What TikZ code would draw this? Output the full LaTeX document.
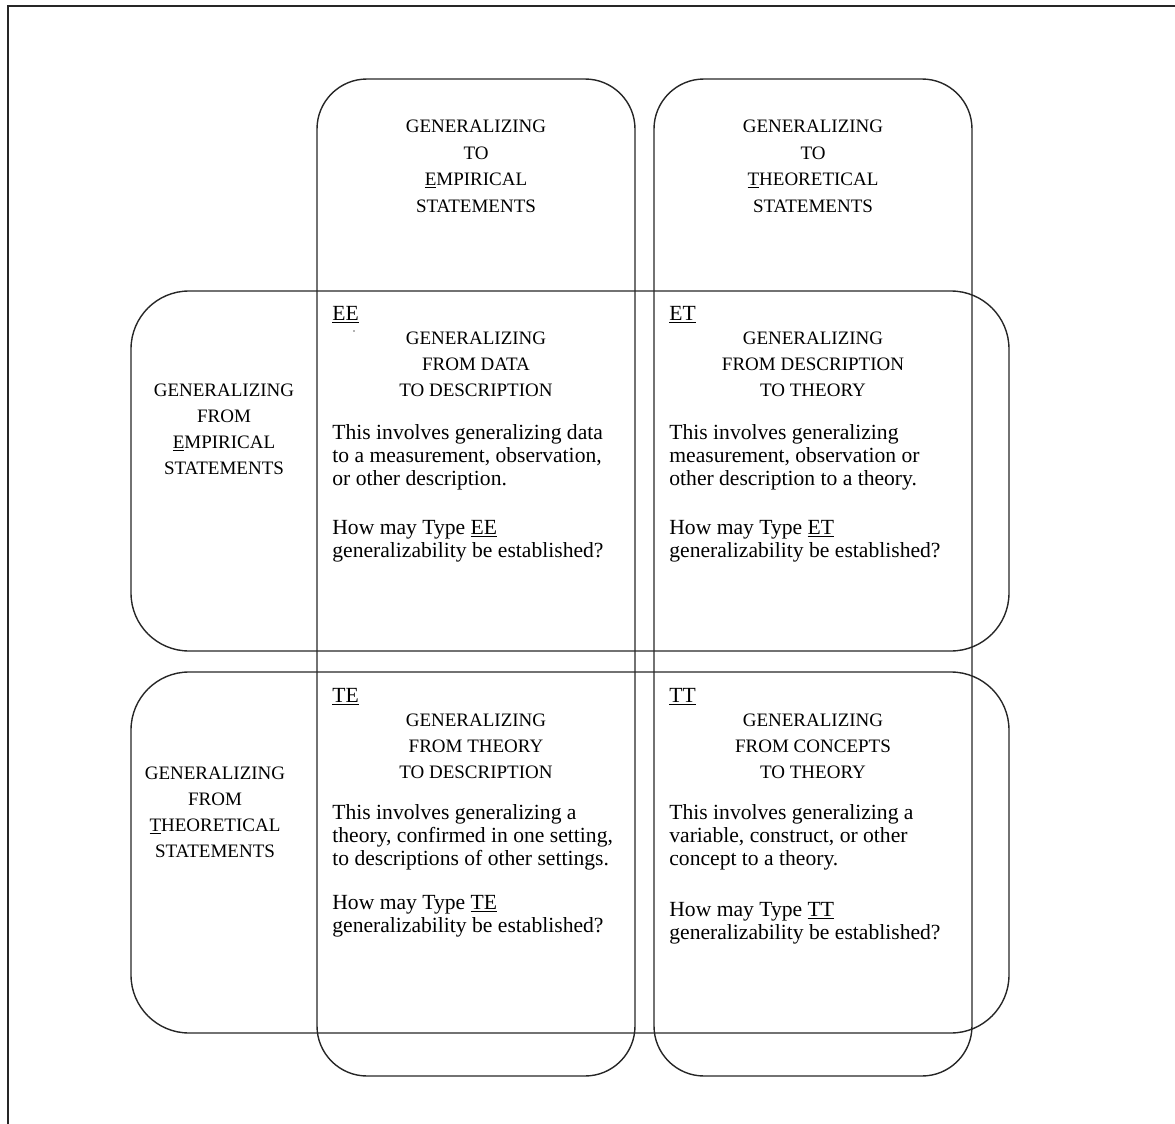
\documentclass[tikz,border=0pt]{standalone}
\usepackage{fontspec}
\setmainfont{Liberation Serif}
\newcommand\hdfont{\fontsize{9.5}{13}\selectfont}
\newcommand\txfont{\fontsize{10.8}{11.5}\selectfont}
\tikzset{
  frameline/.style={line width=0.7pt, black!85},
  band/.style={line width=0.7pt, black!85},
  colband/.style={band, rounded corners=25pt},
  rowband/.style={band, rounded corners=29pt},
  hd/.style={font=\hdfont, anchor=base, inner sep=0pt},
  tx/.style={font=\txfont, anchor=base west, inner sep=0pt},
}
\begin{document}
\begin{tikzpicture}[x=0.5pt, y=-0.5pt]
\useasboundingbox (0,0) rectangle (1175,1124);
% page frame
\draw[frameline] (8,1124) -- (8,6) -- (1175,6);

% overlapping bands: two columns, two rows
\draw[colband] (317,79) rectangle (635,1076);
\draw[colband] (654,79) rectangle (972,1076);
\draw[rowband] (131,291) rectangle (1009,651);
\draw[rowband] (131,672) rectangle (1009,1033);

% column headings
\node[hd] (c1a) at (476,133) {GENERALIZING};
\node[hd] (c1b) at (476,159) {TO};
\node[hd] (c1c) at (476,185) {\underline{E}MPIRICAL};
\node[hd] (c1d) at (476,212) {STATEMENTS};
\node[hd] (c2a) at (813,133) {GENERALIZING};
\node[hd] (c2b) at (813,159) {TO};
\node[hd] (c2c) at (813,185) {\underline{T}HEORETICAL};
\node[hd] (c2d) at (813,212) {STATEMENTS};

% row headings
\node[hd] (r1a) at (224,396) {GENERALIZING};
\node[hd] (r1b) at (224,422) {FROM};
\node[hd] (r1c) at (224,448) {\underline{E}MPIRICAL};
\node[hd] (r1d) at (224,474) {STATEMENTS};
\node[hd] (r2a) at (215,779) {GENERALIZING};
\node[hd] (r2b) at (215,805) {FROM};
\node[hd] (r2c) at (215,831) {\underline{T}HEORETICAL};
\node[hd] (r2d) at (215,857) {STATEMENTS};

% cell EE
\node[tx] (ee) at (332,320) {\underline{EE}};
\fill[black!60] (354,331) circle (0.9);
\node[hd] (ee1) at (476,344) {GENERALIZING};
\node[hd] (ee2) at (476,370) {FROM DATA};
\node[hd] (ee3) at (476,396) {TO DESCRIPTION};
\node[tx] (eet1) at (332,439) {This involves generalizing data};
\node[tx] (eet2) at (332,462) {to a measurement, observation,};
\node[tx] (eet3) at (332,485) {or other description.};
\node[tx] (eeq1) at (332,534) {How may Type \underline{EE}};
\node[tx] (eeq2) at (332,557) {generalizability be established?};

% cell ET
\node[tx] (et) at (669,320) {\underline{ET}};
\node[hd] (et1) at (813,344) {GENERALIZING};
\node[hd] (et2) at (813,370) {FROM DESCRIPTION};
\node[hd] (et3) at (813,396) {TO THEORY};
\node[tx] (ett1) at (669,439) {This involves generalizing};
\node[tx] (ett2) at (669,462) {measurement, observation or};
\node[tx] (ett3) at (669,485) {other description to a theory.};
\node[tx] (etq1) at (669,534) {How may Type \underline{ET}};
\node[tx] (etq2) at (669,557) {generalizability be established?};

% cell TE
\node[tx] (te) at (332,702) {\underline{TE}};
\node[hd] (te1) at (476,726) {GENERALIZING};
\node[hd] (te2) at (476,752) {FROM THEORY};
\node[hd] (te3) at (476,778) {TO DESCRIPTION};
\node[tx] (tet1) at (332,819) {This involves generalizing a};
\node[tx] (tet2) at (332,842) {theory, confirmed in one setting,};
\node[tx] (tet3) at (332,865) {to descriptions of other settings.};
\node[tx] (teq1) at (332,909) {How may Type \underline{TE}};
\node[tx] (teq2) at (332,932) {generalizability be established?};

% cell TT
\node[tx] (tt) at (669,702) {\underline{TT}};
\node[hd] (tt1) at (813,726) {GENERALIZING};
\node[hd] (tt2) at (813,752) {FROM CONCEPTS};
\node[hd] (tt3) at (813,778) {TO THEORY};
\node[tx] (ttt1) at (669,819) {This involves generalizing a};
\node[tx] (ttt2) at (669,842) {variable, construct, or other};
\node[tx] (ttt3) at (669,865) {concept to a theory.};
\node[tx] (ttq1) at (669,916) {How may Type \underline{TT}};
\node[tx] (ttq2) at (669,939) {generalizability be established?};
\end{tikzpicture}
\end{document}
